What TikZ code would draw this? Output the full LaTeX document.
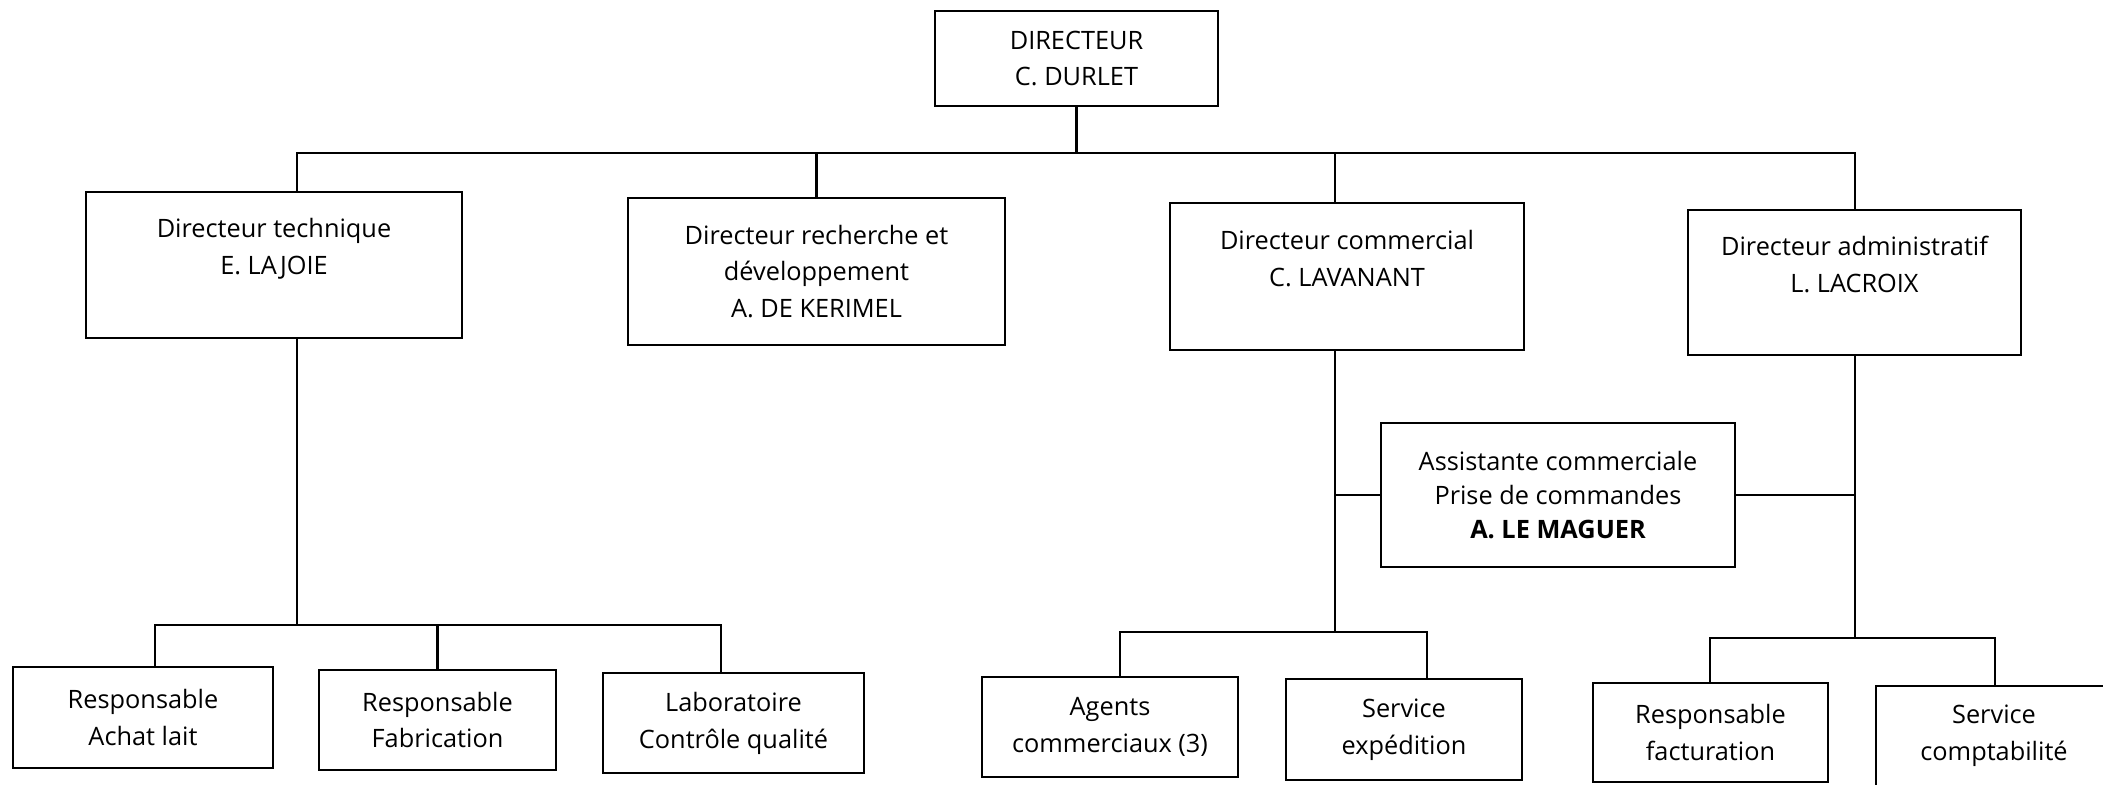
\documentclass[tikz,border=0pt]{standalone}
\usepackage{fontspec}
\setmainfont{Open Sans}
\usepackage{tikz}
\usetikzlibrary{positioning}

\begin{document}
\begin{tikzpicture}[x=0.01cm, y=-0.01cm, line width=0.6pt,
    box/.style={rectangle, draw, align=center, inner sep=0pt,
                font=\fontsize{7.2}{10.5}\selectfont}]
    \useasboundingbox (0,0) rectangle (2103,784);
    \clip (0,0) rectangle (2103,784);

    % direction
    \node [box, minimum width=2.83cm, minimum height=0.95cm] (dir) at (1076.5,58.5) {DIRECTEUR\\C. DURLET};

    % directeurs
    \node [box, minimum width=3.76cm, minimum height=1.46cm] (tech) at (274,265) {Directeur technique\\E. LAJOIE\\\mbox{}};
    \node [box, minimum width=3.77cm, minimum height=1.47cm] (rd) at (816.5,271.5) {Directeur recherche et\\développement\\A. DE KERIMEL};
    \node [box, minimum width=3.54cm, minimum height=1.47cm] (com) at (1347,276.5) {Directeur commercial\\C. LAVANANT\\\mbox{}};
    \node [box, minimum width=3.32cm, minimum height=1.45cm] (adm) at (1854.5,282.5) {Directeur administratif\\L. LACROIX\\\mbox{}};

    \node [box, minimum width=3.54cm, minimum height=1.44cm, font=\fontsize{7.2}{9.6}\selectfont] (ass) at (1558,495) {Assistante commerciale\\Prise de commandes\\\textbf{A.\ LE MAGUER}};

    % services
    \node [box, minimum width=2.60cm, minimum height=1.01cm] (achat) at (143,717.5) {Responsable\\Achat lait};
    \node [box, minimum width=2.37cm, minimum height=1.00cm] (fab) at (437.5,720) {Responsable\\Fabrication};
    \node [box, minimum width=2.61cm, minimum height=1.00cm] (labo) at (733.5,723) {Laboratoire\\Contrôle qualité};
    \node [box, minimum width=2.56cm, minimum height=1.00cm] (agents) at (1110,727) {Agents\\commerciaux (3)};
    \node [box, minimum width=2.36cm, minimum height=1.01cm] (exped) at (1404,729.5) {Service\\expédition};
    \node [box, minimum width=2.35cm, minimum height=0.99cm] (fact) at (1710.5,732.5) {Responsable\\facturation};
    \node [box, minimum width=2.36cm, minimum height=1.00cm] (compta) at (1994,736) {Service\\comptabilité};

    % jonctions
    \coordinate (jT) at (297,153);
    \coordinate (jC) at (1335,153);
    \coordinate (jA) at (1855,153);
    \coordinate (tL) at (155,625);
    \coordinate (tR) at (721,625);
    \coordinate (cL) at (1120,632);
    \coordinate (cR) at (1427,632);
    \coordinate (aL) at (1710,638);
    \coordinate (aR) at (1995,638);

    \draw (dir) -- (dir |- jT);
    \draw (jT |- tech.north) -- (jT) -- (jA) -- (jA |- adm.north);
    \draw (rd) -- (rd |- jT);
    \draw (jC) -- (jC |- com.north);

    \draw (jT |- tech.south) -- (jT |- tL);
    \draw (tL |- achat.north) -- (tL) -- (tR) -- (tR |- labo.north);
    \draw (fab) -- (fab |- tL);

    \draw (jC |- com.south) -- (jC |- cL);
    \draw (ass.west) -- (ass.west -| jC);
    \draw (cL |- agents.north) -- (cL) -- (cR) -- (cR |- exped.north);

    \draw (jA |- adm.south) -- (jA |- aL);
    \draw (ass.east) -- (ass.east -| jA);
    \draw (aL |- fact.north) -- (aL) -- (aR) -- (aR |- compta.north);
\end{tikzpicture}
\end{document}
